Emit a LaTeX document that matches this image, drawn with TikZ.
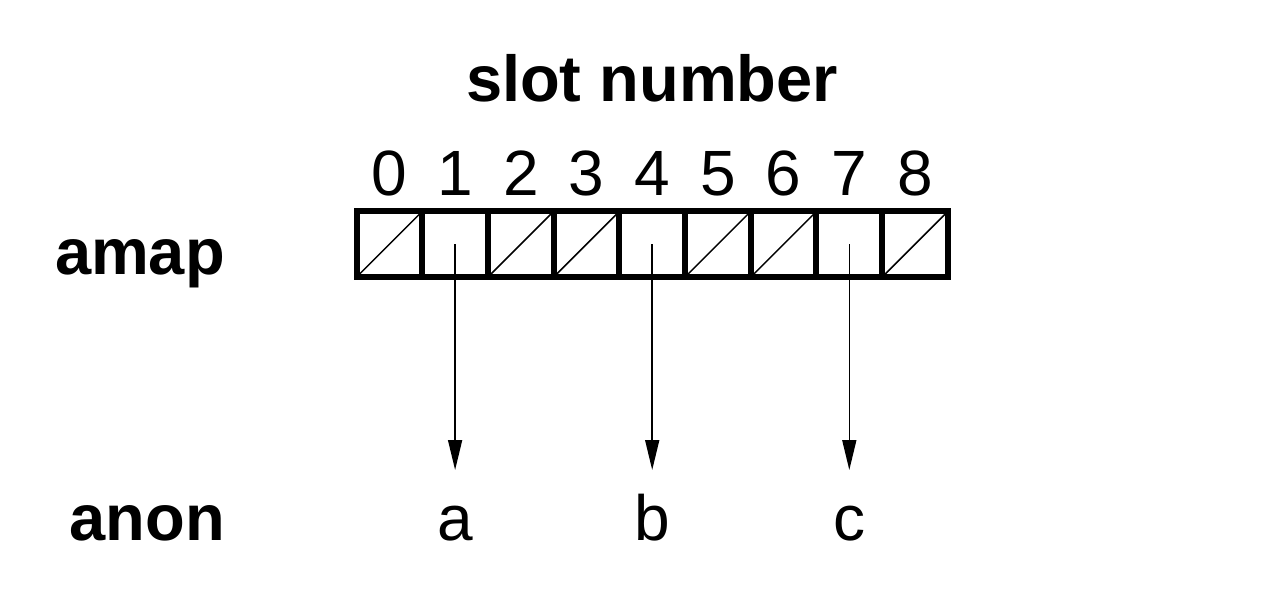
\documentclass[tikz,border=0pt]{standalone}
\usepackage{fontspec}
\setmainfont{Liberation Sans}
\usetikzlibrary{arrows.meta}
\begin{document}
\begin{tikzpicture}[x=1pt,y=-1pt,
  cell/.style={draw,line width=6pt,minimum width=65.7pt,minimum height=65.7pt,inner sep=0pt,outer sep=0pt},
  lbl/.style={font=\fontsize{65}{70}\selectfont\bfseries,inner sep=0pt},
  dig/.style={font=\fontsize{64}{70}\selectfont,inner sep=0pt,anchor=base},
  diag/.style={line width=1.5pt},
  arr/.style={line width=1.6pt,-{Triangle[length=30pt,width=14pt]}}]
\useasboundingbox (0,0) rectangle (1265,602);
\node[lbl,anchor=base] (title) at (652,101) {slot number};
\node[lbl,anchor=base east] (amap) at (225,274) {amap};
\node[lbl,anchor=base east] (anon) at (225,540) {anon};
\foreach \i in {0,...,8}{
  \node[cell] (c\i) at (389.4+65.7*\i,244.2) {};
  \node[dig] (d\i) at (389.4+65.7*\i,195) {\i};
}
\foreach \i in {0,2,3,5,6,8}{
  \draw[diag] (c\i.south west) -- (c\i.north east);
}
\foreach \i in {0,...,8}{
  \draw[line width=6pt] (c\i.south west) rectangle (c\i.north east);
}
\node[dig] (a) at (c1.center |- 0,540) {a};
\node[dig] (b) at (c4.center |- 0,540) {b};
\node[dig] (c) at (c7.center |- 0,540) {c};
\coordinate (ta) at (c1.center |- 0,470);
\coordinate (tb) at (c4.center |- 0,470);
\coordinate (tc) at (c7.center |- 0,470);
\draw[arr] (c1.center) -- (ta);
\draw[arr] (c4.center) -- (tb);
\draw[arr] (c7.center) -- (tc);
\end{tikzpicture}
\end{document}
